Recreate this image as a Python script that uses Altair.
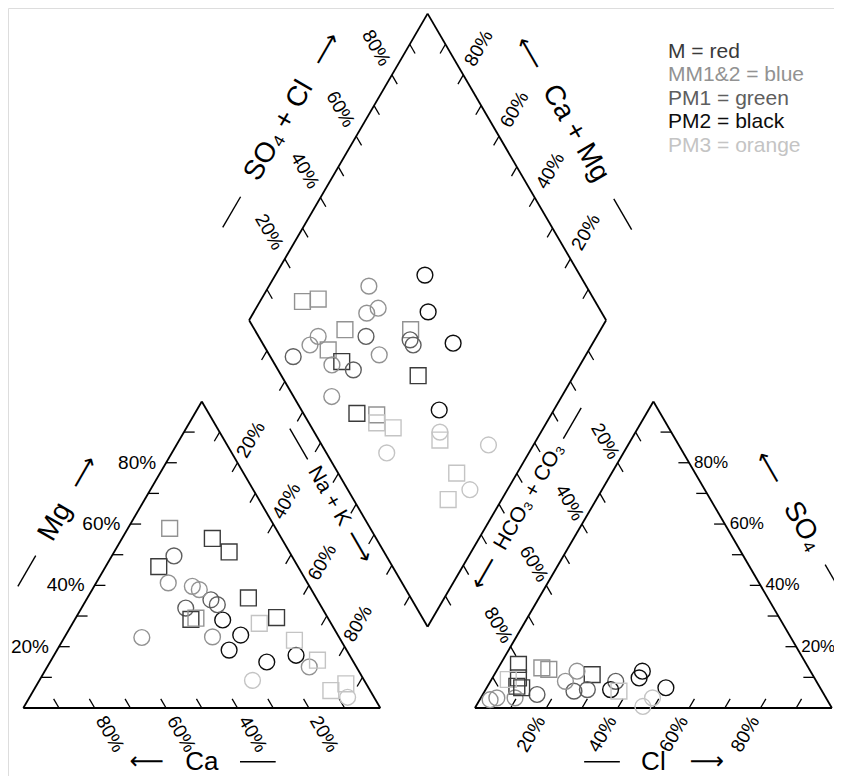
import numpy as np
import pandas as pd
import altair as alt

# ---------------- data ----------------
GROUPS = ["M", "MM1&2", "PM1", "PM2", "PM3"]
GROUP_COLORS = ["#3a3a3a", "#929292", "#5e5e5e", "#0d0d0d", "#c4c4c4"]
LEGEND_LABELS = ["M = red", "MM1&2 = blue", "PM1 = green", "PM2 = black", "PM3 = orange"]
TICK_VALUES = [20, 40, 60, 80]

# cation triangle (Ca %, Mg %; Na+K is the remainder)
cat_group = ["MM1&2", "M", "M", "PM1", "M", "MM1&2", "MM1&2", "PM1", "M", "PM1",
             "PM2", "M", "M", "PM2", "MM1&2", "PM2", "MM1&2", "PM2", "PM2", "MM1&2",
             "PM3", "PM3", "PM3", "PM3", "PM3", "MM1&2", "PM1", "PM3", "PM3", "MM1&2"]
cat_shape = ["square", "square", "square", "circle", "square", "circle", "circle", "circle", "square", "circle",
             "circle", "square", "square", "circle", "circle", "circle", "circle", "circle", "circle", "circle",
             "circle", "square", "square", "circle", "square", "circle", "circle", "square", "square", "square"]
cat_ca = [29.7, 19.4, 16.9, 33.0, 39.0, 39.0, 32.8, 38.2, 38.6, 29.8,
          29.8, 19.0, 14.3, 27.2, 35.4, 32.9, 55.3, 24.3, 15.0, 13.2,
          31.3, 11.0, 5.7, 7.4, 9.8, 31.4, 28.8, 20.1, 13.0, 37.0]
cat_mg = [58.6, 55.3, 50.9, 49.6, 46.1, 40.8, 39.7, 32.6, 28.9, 35.3,
          28.7, 35.9, 29.5, 23.8, 23.2, 18.9, 23.0, 15.0, 17.2, 13.4,
          9.0, 5.7, 7.9, 3.5, 15.6, 38.6, 33.7, 27.6, 22.1, 29.3]

# anion triangle (Cl %, SO4 %; HCO3+CO3 is the remainder)
an_group = ["M", "M", "M", "MM1&2", "MM1&2", "MM1&2", "PM1", "MM1&2", "M", "MM1&2",
            "PM1", "PM1", "PM1", "PM2", "PM2", "PM2", "PM2", "PM3", "MM1&2", "PM3",
            "PM3", "PM3", "M", "MM1&2"]
an_shape = ["square", "square", "square", "square", "square", "circle", "circle", "circle", "square", "circle",
            "circle", "circle", "circle", "circle", "circle", "circle", "circle", "circle", "circle", "circle",
            "square", "square", "square", "circle"]
an_cl = [5.1, 7.3, 8.2, 12.2, 14.4, 2.9, 15.2, 9.6, 27.4, 22.6,
         25.0, 28.5, 35.1, 35.0, 40.9, 41.1, 50.2, 46.8, 21.0, 48.1,
         4.7, 37.6, 9.8, 4.5]
an_so4 = [14.2, 9.8, 7.1, 13.1, 12.6, 2.7, 4.4, 3.3, 10.9, 12.0,
          5.5, 6.0, 8.7, 6.0, 12.0, 9.8, 6.6, 0.5, 8.7, 3.3,
          9.3, 5.5, 6.6, 3.3]

# diamond (SO4+Cl %, Ca+Mg %)
dia_group = ["PM2", "MM1&2", "MM1&2", "MM1&2", "PM2", "MM1&2", "MM1&2", "MM1&2", "MM1&2", "PM1",
             "PM1", "PM1", "PM2", "MM1&2", "MM1&2", "PM1", "MM1&2", "M", "MM1&2", "PM1",
             "MM1&2", "M", "MM1&2", "M", "MM1&2", "PM2", "PM3", "PM3", "PM3", "PM3",
             "PM3", "PM3", "PM3", "PM3", "PM3"]
dia_shape = ["circle", "circle", "square", "square", "circle", "circle", "circle", "square", "square", "circle",
             "circle", "circle", "circle", "circle", "circle", "circle", "square", "square", "circle", "circle",
             "circle", "square", "circle", "square", "square", "circle", "square", "square", "circle", "square",
             "circle", "circle", "square", "square", "circle"]
dia_so4cl = [56.6, 39.1, 18.0, 22.8, 51.5, 34.1, 38.1, 25.3, 43.7, 30.1,
             41.9, 41.9, 53.4, 16.7, 13.0, 6.4, 17.3, 19.2, 30.8, 21.1,
             15.9, 38.3, 10.7, 15.0, 20.3, 38.6, 19.0, 22.8, 16.9, 33.9,
             35.2, 46.7, 33.2, 26.5, 34.2]
dia_camg = [58.1, 72.0, 88.1, 84.1, 51.2, 68.2, 65.8, 71.6, 53.2, 64.6,
            51.7, 50.0, 39.1, 78.0, 78.9, 81.7, 73.0, 67.3, 57.9, 62.7,
            69.5, 43.6, 64.4, 54.6, 48.8, 32.1, 47.5, 42.1, 39.8, 27.0,
            28.3, 12.6, 16.9, 15.0, 10.5]

# ---------------- geometry ----------------
S3 = np.sqrt(3) / 2
GAP = 26.5
X0 = 100 + GAP
BX, BY = 100 + GAP / 2, GAP / 2 * np.sqrt(3)
E1 = np.array([0.5, S3])
E2 = np.array([-0.5, S3])


def cat_xy(ca, mg):
    return np.array([100 - ca - mg / 2, mg * S3])


def an_xy(cl, so4):
    return np.array([X0 + cl + so4 / 2, so4 * S3])


def dia_xy(a, c):
    return np.array([BX + 0.5 * (a - c), BY + S3 * (a + c)])


# points
rows = []
for g, s, ca, mg in zip(cat_group, cat_shape, cat_ca, cat_mg):
    x, y = cat_xy(ca, mg)
    rows.append((x, y, g, s))
for g, s, cl, so4 in zip(an_group, an_shape, an_cl, an_so4):
    x, y = an_xy(cl, so4)
    rows.append((x, y, g, s))
for g, s, a, c in zip(dia_group, dia_shape, dia_so4cl, dia_camg):
    x, y = dia_xy(a, c)
    rows.append((x, y, g, s))
pts = pd.DataFrame(rows, columns=["x", "y", "group", "shape"])

# outlines
outline = []
polys = [
    [np.array([0, 0]), np.array([100, 0]), np.array([50, 100 * S3])],
    [np.array([X0, 0]), np.array([X0 + 100, 0]), np.array([X0 + 50, 100 * S3])],
    [dia_xy(0, 0), dia_xy(100, 0), dia_xy(100, 100), dia_xy(0, 100)],
]
for poly in polys:
    for i in range(len(poly)):
        p, q = poly[i], poly[(i + 1) % len(poly)]
        outline.append((p[0], p[1], q[0], q[1]))
outline = pd.DataFrame(outline, columns=["x", "y", "x2", "y2"])

# ticks
TL = 3.0
tick_specs = [
    (lambda p: cat_xy(100 - p, p), np.array([1.0, 0.0])),
    (lambda p: cat_xy(p, 0), np.array([-0.5, S3])),
    (lambda p: cat_xy(0, 100 - p), np.array([-0.5, -S3])),
    (lambda p: an_xy(100 - p, p), np.array([-1.0, 0.0])),
    (lambda p: an_xy(p, 0), np.array([0.5, S3])),
    (lambda p: an_xy(0, 100 - p), np.array([0.5, -S3])),
    (lambda p: dia_xy(p, 100), np.array([0.5, -S3])),
    (lambda p: dia_xy(100, p), np.array([-0.5, -S3])),
    (lambda p: dia_xy(0, p), np.array([-0.5, -S3])),
    (lambda p: dia_xy(p, 0), np.array([0.5, -S3])),
]
ticks = []
for f, d in tick_specs:
    for p in range(10, 100, 10):
        a = f(p)
        b = a + TL * d
        ticks.append((a[0], a[1], b[0], b[1]))
ticks = pd.DataFrame(ticks, columns=["x", "y", "x2", "y2"])

# tick labels
rot_lab, left_lab, right_lab = [], [], []
for p in TICK_VALUES:
    t = f"{p}%"
    q = cat_xy(100 - p, p) + np.array([-2.8, 0])
    right_lab.append((q[0], q[1], t))
    q = an_xy(100 - p, p) + np.array([1.4, 0])
    left_lab.append((q[0], q[1], t))
    q = cat_xy(p, 0) + np.array([0.5, -S3]) * 8.5
    rot_lab.append((q[0], q[1], t, 60))
    q = cat_xy(0, 100 - p) + E1 * 7.5
    rot_lab.append((q[0], q[1], t, 300))
    q = an_xy(p, 0) + np.array([-0.5, -S3]) * 8.5
    rot_lab.append((q[0], q[1], t, 300))
    q = an_xy(0, 100 - p) + E2 * 7.0
    rot_lab.append((q[0], q[1], t, 60))
    q = dia_xy(p, 100) + E2 * 8.8
    rot_lab.append((q[0], q[1], t, 60))
    q = dia_xy(100, p) + E1 * 8.7
    rot_lab.append((q[0], q[1], t, 300))
rot_lab = pd.DataFrame(rot_lab, columns=["x", "y", "text", "angle"])
left_lab = pd.DataFrame(left_lab, columns=["x", "y", "text"])
right_lab = pd.DataFrame(right_lab, columns=["x", "y", "text"])

# axis titles: (start, direction, outward normal, offset, angle, size, [(kind, t, text)])
title_specs = [
    (np.array([0, 0]), E1, np.array([-S3, 0.5]), 18.5, 300, 28,
     [("dash", 34, ""), ("text", 50, "Mg"), ("arrow", 66, "⟶")]),
    (np.array([0, 0]), np.array([1, 0]), np.array([0, -1]), 15.2, 0, 26,
     [("arrow", 34.6, "⟵"), ("text", 50, "Ca"), ("dash", 65.7, "")]),
    (np.array([50, 100 * S3]), np.array([0.5, -S3]), np.array([S3, 0.5]), 17.5, 60, 21,
     [("dash", 24, ""), ("text", 41, "Na + K"), ("arrow", 57.5, "⟶")]),
    (np.array([X0 + 100, 0]), E2, np.array([S3, 0.5]), 18.6, 60, 28,
     [("dash", 31, ""), ("text", 48.5, "SO₄"), ("arrow", 67.5, "⟵")]),
    (np.array([X0, 0]), np.array([1, 0]), np.array([0, -1]), 15.2, 0, 26,
     [("dash", 35.6, ""), ("text", 50, "Cl"), ("arrow", 65, "⟶")]),
    (np.array([X0 + 50, 100 * S3]), np.array([-0.5, -S3]), np.array([-S3, 0.5]), 16.6, 300, 21,
     [("dash", 16.7, ""), ("text", 40.7, "HCO₃ + CO₃"), ("arrow", 65.6, "⟵")]),
    (dia_xy(0, 100), E1, np.array([-S3, 0.5]), 19.5, 300, 28,
     [("dash", 24, ""), ("text", 50.5, "SO₄ + Cl"), ("arrow", 77, "⟶")]),
    (dia_xy(100, 0), E2, np.array([S3, 0.5]), 19.0, 60, 28,
     [("dash", 23.6, ""), ("text", 50, "Ca + Mg"), ("arrow", 76, "⟵")]),
]
big_text, arrows, dashes = [], [], []
for start, d, n, s, ang, fs, items in title_specs:
    for kind, t, txt in items:
        c = start + t * d + s * n
        if kind == "text":
            big_text.append((c[0], c[1], txt, ang, fs))
        elif kind == "arrow":
            arrows.append((c[0], c[1], txt, ang))
        else:
            a, b = c - 5 * d, c + 5 * d
            dashes.append((a[0], a[1], b[0], b[1]))
big_text = pd.DataFrame(big_text, columns=["x", "y", "text", "angle", "fs"])
arrows = pd.DataFrame(arrows, columns=["x", "y", "text", "angle"])
dashes = pd.DataFrame(dashes, columns=["x", "y", "x2", "y2"])

legend = pd.DataFrame({
    "x": [180.6] * 5,
    "y": [185.3 - i * 6.62 for i in range(5)],
    "text": LEGEND_LABELS,
    "col": GROUP_COLORS,
})

# ---------------- scales ----------------
W, H = 826, 768
KX, KY = 3.57, 3.54
XMIN = -15.3 / KX
XMAX = XMIN + W / KX
YMAX = 700 / KY
YMIN = YMAX - H / KY
xs = alt.Scale(domain=[XMIN, XMAX], nice=False, zero=False)
ys = alt.Scale(domain=[YMIN, YMAX], nice=False, zero=False)
X = alt.X("x:Q", scale=xs, axis=None)
Y = alt.Y("y:Q", scale=ys, axis=None)
FONT = "Liberation Sans"

outline_l = alt.Chart(outline).mark_rule(color="black", strokeWidth=1.8).encode(
    x=X, y=Y, x2="x2:Q", y2="y2:Q")
tick_l = alt.Chart(ticks).mark_rule(color="black", strokeWidth=1.3).encode(
    x=X, y=Y, x2="x2:Q", y2="y2:Q")
dash_l = alt.Chart(dashes).mark_rule(color="black", strokeWidth=1.4).encode(
    x=X, y=Y, x2="x2:Q", y2="y2:Q")

points_l = alt.Chart(pts).mark_point(filled=False, size=250, strokeWidth=1.4, opacity=1).encode(
    x=X, y=Y,
    shape=alt.Shape("shape:N", scale=alt.Scale(domain=["circle", "square"], range=["circle", "square"]), legend=None),
    color=alt.Color("group:N", scale=alt.Scale(domain=GROUPS, range=GROUP_COLORS), legend=None),
)

rot_l = alt.Chart(rot_lab).mark_text(font=FONT, fontSize=19, align="center", baseline="middle", color="black").encode(
    x=X, y=Y, text="text:N", angle=alt.Angle("angle:Q", scale=None))
left_l = alt.Chart(left_lab).mark_text(font=FONT, fontSize=17, align="left", baseline="middle", color="black").encode(
    x=X, y=Y, text="text:N")
right_l = alt.Chart(right_lab).mark_text(font=FONT, fontSize=19, align="right", baseline="middle", color="black").encode(
    x=X, y=Y, text="text:N")
big_l = alt.Chart(big_text).mark_text(font=FONT, align="center", baseline="middle", color="black").encode(
    x=X, y=Y, text="text:N", angle=alt.Angle("angle:Q", scale=None), size=alt.Size("fs:Q", scale=None))
arrow_l = alt.Chart(arrows).mark_text(font="DejaVu Sans", fontSize=24, align="center", baseline="middle", color="black").encode(
    x=X, y=Y, text="text:N", angle=alt.Angle("angle:Q", scale=None))
legend_l = alt.Chart(legend).mark_text(font=FONT, fontSize=21, align="left", baseline="middle").encode(
    x=X, y=Y, text="text:N", color=alt.Color("col:N", scale=None))

chart = alt.layer(
    outline_l, tick_l, dash_l, points_l, rot_l, left_l, right_l, big_l, arrow_l, legend_l
).properties(
    width=W, height=H, padding=0,
    autosize=alt.AutoSizeParams(type="none"),
).configure_view(stroke=None).configure(background="white")

chart.save("out.html", embed_options={"renderer": "svg", "actions": False})
